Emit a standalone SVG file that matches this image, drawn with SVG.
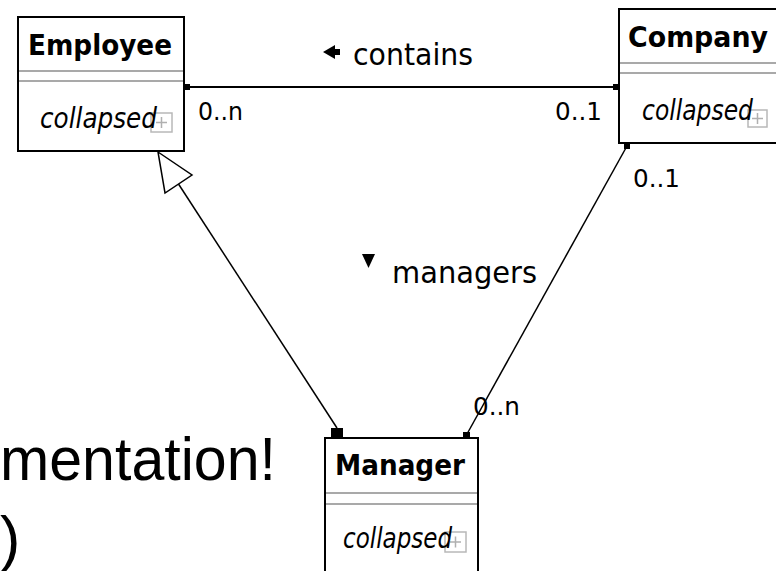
<svg xmlns="http://www.w3.org/2000/svg" width="776" height="571" viewBox="0 0 776 571">
  <defs>
    <style>
      .box { fill: #ffffff; stroke: #000000; stroke-width: 2; }
      .sep { stroke: #8c8c8c; stroke-width: 1.5; fill: none; }
      .title { font-family: "DejaVu Sans", Verdana, sans-serif; font-weight: bold; font-size: 28px; fill: #000; }
      .coll { font-family: "DejaVu Sans", Verdana, sans-serif; font-style: italic; font-size: 28px; fill: #000; }
      .plusbox { fill: none; stroke: #b8b8b8; stroke-width: 1.5; }
      .plus { stroke: #b0b0b0; stroke-width: 1.5; fill: none; }
      .mult { font-family: "DejaVu Sans", Verdana, sans-serif; font-size: 25px; fill: #000; }
      .lbl { font-family: "DejaVu Sans", Verdana, sans-serif; font-size: 31px; fill: #000; }
      .big { font-family: "Liberation Sans", Arial, sans-serif; font-size: 61px; fill: #000; }
      .conn { stroke: #000; fill: none; }
      .end { fill: #000; stroke: none; }
    </style>
  </defs>
  <rect x="0" y="0" width="776" height="571" fill="#ffffff"/>

  <g id="slide-text">
    <text class="big" x="0" y="480" textLength="276" lengthAdjust="spacingAndGlyphs">mentation!</text>
    <text class="big" x="0" y="559">)</text>
  </g>

  <g id="connectors">
    <!-- contains -->
    <line class="conn" x1="184" y1="87" x2="619" y2="87" stroke-width="2"/>
    <rect class="end" x="184" y="84" width="6" height="6"/>
    <rect class="end" x="613" y="84" width="6" height="6"/>
    <polygon class="end" points="323,52 335,45 335,59"/>
    <rect class="end" x="334" y="49" width="6" height="6"/>
    <text class="lbl" x="353" y="65" textLength="120" lengthAdjust="spacingAndGlyphs">contains</text>
    <text class="mult" x="198" y="120" textLength="45" lengthAdjust="spacingAndGlyphs">0..n</text>
    <text class="mult" x="555" y="120" textLength="47" lengthAdjust="spacingAndGlyphs">0..1</text>

    <!-- generalization Manager -> Employee -->
    <line class="conn" x1="178.5" y1="184" x2="337" y2="428" stroke-width="1.5"/>
    <polygon points="158,152 192,175 165,193" fill="#ffffff" stroke="#000" stroke-width="1.5"/>
    <rect class="end" x="331" y="428" width="12" height="10"/>

    <!-- managers -->
    <line class="conn" x1="627" y1="146" x2="467" y2="434" stroke-width="1.5"/>
    <rect class="end" x="624" y="143" width="6" height="6"/>
    <rect class="end" x="463" y="432" width="7" height="6"/>
    <polygon class="end" points="362,254 375,254 368.5,268"/>
    <text class="lbl" x="392" y="283" textLength="145" lengthAdjust="spacingAndGlyphs">managers</text>
    <text class="mult" x="633" y="187" textLength="47" lengthAdjust="spacingAndGlyphs">0..1</text>
    <text class="mult" x="473" y="415" textLength="47" lengthAdjust="spacingAndGlyphs">0..n</text>
  </g>

  <g id="employee">
    <rect class="box" x="18" y="17" width="166" height="134"/>
    <line class="sep" x1="19" y1="71" x2="183" y2="71"/>
    <line class="sep" x1="19" y1="81" x2="183" y2="81"/>
    <text class="title" x="28" y="55" textLength="144" lengthAdjust="spacingAndGlyphs">Employee</text>
    <rect class="plusbox" x="151" y="113" width="21" height="19"/>
    <path class="plus" d="M156,122.5 H167 M161.5,117 V128"/>
    <text class="coll" x="40" y="128" textLength="117" lengthAdjust="spacingAndGlyphs">collapsed</text>
  </g>

  <g id="company">
    <rect class="box" x="619" y="9" width="180" height="134"/>
    <line class="sep" x1="620" y1="63" x2="776" y2="63"/>
    <line class="sep" x1="620" y1="73" x2="776" y2="73"/>
    <text class="title" x="628" y="47" textLength="140" lengthAdjust="spacingAndGlyphs">Company</text>
    <rect class="plusbox" x="748" y="110" width="19" height="17"/>
    <path class="plus" d="M752,118.5 H763 M757.5,113 V124"/>
    <text class="coll" x="642" y="120" textLength="111" lengthAdjust="spacingAndGlyphs">collapsed</text>
  </g>

  <g id="manager">
    <rect class="box" x="325" y="438" width="153" height="150"/>
    <line class="sep" x1="326" y1="493" x2="477" y2="493"/>
    <line class="sep" x1="326" y1="504" x2="477" y2="504"/>
    <text class="title" x="335" y="475" textLength="130" lengthAdjust="spacingAndGlyphs">Manager</text>
    <rect class="plusbox" x="445" y="532" width="21" height="20"/>
    <path class="plus" d="M450,542 H461 M455.5,536.5 V547.5"/>
    <text class="coll" x="343" y="548" textLength="109" lengthAdjust="spacingAndGlyphs">collapsed</text>
  </g>
</svg>
